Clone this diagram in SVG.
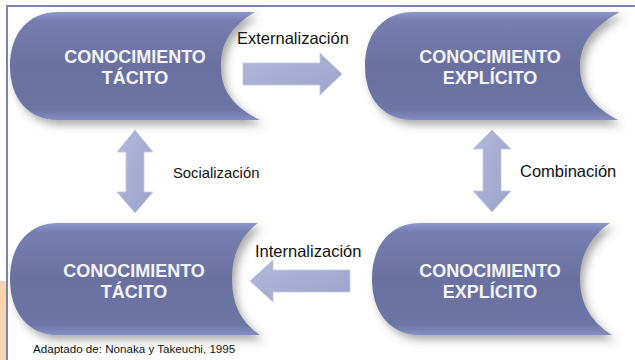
<svg xmlns="http://www.w3.org/2000/svg" width="635" height="360" viewBox="0 0 635 360">
<defs>
<style>
.node{fill:url(#ng);filter:url(#sh);}
.nt{font-family:"Liberation Sans",Arial,sans-serif;font-weight:bold;font-size:18px;fill:#f4f4f8;text-anchor:middle;}
.lb{font-family:"Liberation Sans",Arial,sans-serif;font-size:16px;fill:#111;}
.arr{fill:url(#ag);stroke:#c3c8e4;stroke-width:0.8;}
</style>
<linearGradient id="ng" x1="0" y1="0" x2="0" y2="1">
<stop offset="0" stop-color="#8e97cb"/>
<stop offset="0.08" stop-color="#767eb0"/>
<stop offset="0.5" stop-color="#6a71a0"/>
<stop offset="0.9" stop-color="#6c74a4"/>
<stop offset="1" stop-color="#858ec4"/>
</linearGradient>
<linearGradient id="ag" x1="0" y1="0" x2="1" y2="1">
<stop offset="0" stop-color="#b3b9db"/>
<stop offset="1" stop-color="#9ca3c9"/>
</linearGradient>
<filter id="sh" x="-10%" y="-10%" width="125%" height="135%">
<feDropShadow dx="4" dy="5" stdDeviation="4.5" flood-color="#555" flood-opacity="0.5"/>
</filter>
</defs>
<rect width="635" height="360" fill="#ffffff"/>
<rect x="0" y="281" width="6" height="79" fill="#fbd4ae"/>
<line x1="6" y1="6" x2="635" y2="6" stroke="#7b83b8" stroke-width="2"/>
<line x1="7" y1="6" x2="7" y2="360" stroke="#7b83b8" stroke-width="2"/>

<g id="connectors">
<path class="arr" d="M243,63 H320 V53 L342,74 L320,95 V85 H243 Z"/>
<path class="arr" d="M350,270 H273 V260 L250,281 L273,302 V292 H350 Z"/>
<path class="arr" d="M135,130 L153,152 H144 V192 H153 L135,213 L117,192 H126 V152 H117 Z"/>
<path class="arr" d="M492,130 L511,149 H501 V191 H511 L492,212 L473,191 H483 V149 H473 Z"/>
<text class="lb" x="237" y="44" style="font-size:16.5px">Externalización</text>
<text class="lb" x="173" y="178" style="font-size:14.8px">Socialización</text>
<text class="lb" x="520" y="177" style="font-size:16.5px">Combinación</text>
<text class="lb" x="255" y="257" style="font-size:16.5px">Internalización</text>
</g>

<g id="node-tacito-1">
<path class="node" d="M58,12 H255 C228,28 221,46 221,66 C221,86 228,104 260,120 H58 C28,120 10,98 10,66 C10,34 28,12 58,12 Z"/>
<text class="nt" x="135" y="63">CONOCIMIENTO</text>
<text class="nt" x="135" y="84">TÁCITO</text>
</g>
<g id="node-explicito-1">
<path class="node" d="M413,12 H620 C590,28 580,46 580,66 C580,86 588,104 618,120 H413 C383,120 365,98 365,66 C365,34 383,12 413,12 Z"/>
<text class="nt" x="490" y="63">CONOCIMIENTO</text>
<text class="nt" x="490" y="84">EXPLÍCITO</text>
</g>
<g id="node-tacito-2">
<path class="node" d="M58,223 H258 C238,238 232,258 232,279 C232,300 238,320 260,335 H58 C28,335 10,312 10,279 C10,246 28,223 58,223 Z"/>
<text class="nt" x="134" y="277">CONOCIMIENTO</text>
<text class="nt" x="134" y="298">TÁCITO</text>
</g>
<g id="node-explicito-2">
<path class="node" d="M420,223 H610 C588,238 580,258 580,279 C580,300 588,320 612,335 H420 C390,335 372,312 372,279 C372,246 390,223 420,223 Z"/>
<text class="nt" x="490" y="277">CONOCIMIENTO</text>
<text class="nt" x="490" y="298">EXPLÍCITO</text>
</g>

<text x="33" y="353" font-family="'Liberation Sans',Arial,sans-serif" font-size="11.6" fill="#111">Adaptado de: Nonaka y Takeuchi, 1995</text>
</svg>
